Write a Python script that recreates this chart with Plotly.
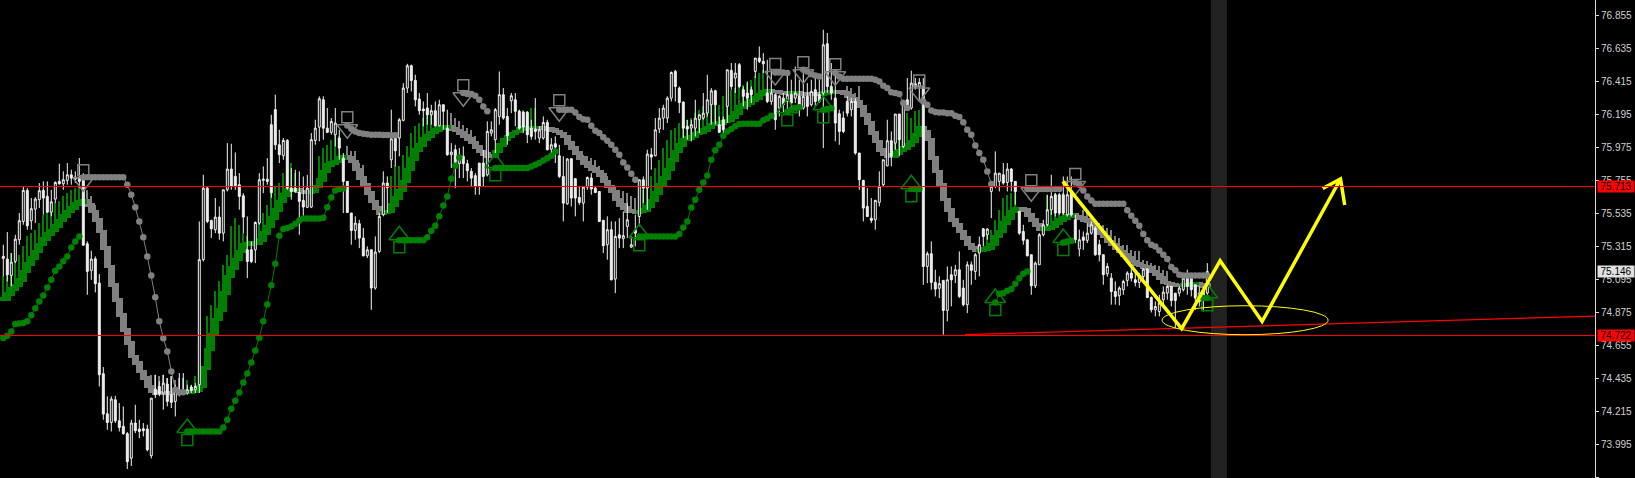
import plotly.graph_objects as go

high = [
75.325,75.409,75.269,75.391,75.536,75.714,75.702,75.636,75.642,75.736,
75.747,75.747,75.691,75.747,75.865,75.814,75.869,75.825,75.814,75.903,
75.802,75.347,75.285,75.247,75.129,74.509,74.314,74.314,74.318,74.269,
74.247,74.076,74.158,74.258,74.158,74.136,74.125,74.302,74.458,74.414,
74.458,74.436,74.447,74.391,74.469,74.469,74.391,74.391,74.402,75.480,
75.791,75.713,75.491,75.636,75.580,75.691,76.002,75.998,75.940,75.802,
75.669,75.513,75.347,75.480,75.802,75.847,75.902,76.191,76.325,76.091,
76.036,76.029,75.836,75.825,75.814,75.780,75.791,76.069,76.158,76.314,
76.314,76.236,76.169,76.236,76.091,75.936,75.747,75.536,75.514,75.491,
75.436,75.314,75.291,75.380,75.536,75.814,75.780,76.225,76.069,76.169,
76.402,76.531,76.525,76.458,76.336,76.280,76.336,76.258,76.280,76.291,
76.258,76.225,76.002,75.991,75.969,75.980,75.891,75.836,75.802,75.869,
75.958,76.147,76.147,76.236,76.480,76.369,76.236,76.336,76.336,76.225,
76.214,76.214,76.158,76.302,76.114,76.180,76.158,76.036,76.047,75.991,
75.914,75.902,75.902,75.769,75.714,75.714,75.780,75.802,75.714,75.680,
75.491,75.514,75.480,75.480,75.502,75.547,75.602,75.380,75.525,75.758,
75.780,75.958,75.969,76.169,76.236,76.258,76.314,76.480,76.491,76.380,
76.280,76.158,76.158,76.291,76.191,76.336,76.458,76.369,76.358,76.180,
76.180,76.491,76.536,76.536,76.536,76.380,76.414,76.380,76.569,76.647,
76.602,76.558,76.491,76.336,76.325,76.336,76.469,76.425,76.513,76.425,
76.469,76.402,76.425,76.469,76.425,76.758,76.736,76.536,76.491,76.225,
76.214,76.314,76.302,76.302,75.936,75.758,75.702,75.636,75.625,75.814,
75.891,76.158,76.080,76.196,76.196,76.291,76.436,76.485,76.436,76.436,
76.436,75.280,75.347,75.158,75.114,75.087,75.180,75.180,75.191,75.280,
75.091,75.213,75.213,75.269,75.380,75.436,75.436,75.747,75.947,75.802,
75.869,75.869,75.836,75.747,75.547,75.458,75.358,75.258,75.213,75.402,
75.491,75.658,75.791,75.669,75.669,75.780,75.780,75.780,75.524,75.425,
75.413,75.469,75.480,75.447,75.358,75.258,75.202,75.136,75.080,75.047,
75.091,75.147,75.169,75.136,75.136,75.169,75.169,74.980,74.947,74.991,
75.047,75.058,75.047,75.002,75.047,75.136,75.158,75.136,75.058,75.047,75.047,75.202]

body_top = [
75.247,75.229,75.209,75.362,75.485,75.687,75.687,75.565,75.629,75.685,
75.687,75.647,75.611,75.740,75.747,75.758,75.791,75.791,75.776,75.774,
75.754,75.331,75.229,75.231,75.069,74.465,74.198,74.296,74.291,74.151,
74.114,74.065,74.136,74.136,74.096,74.098,74.096,74.302,74.362,74.380,
74.402,74.396,74.325,74.358,74.358,74.353,74.358,74.376,74.380,75.225,
75.702,75.702,75.487,75.509,75.509,75.691,75.829,75.829,75.780,75.725,
75.651,75.291,75.291,75.473,75.758,75.762,75.762,76.125,76.225,75.991,
76.020,76.020,75.702,75.702,75.673,75.620,75.702,76.025,76.102,76.298,
76.291,76.102,76.147,76.136,76.036,75.902,75.747,75.536,75.469,75.465,
75.369,75.291,75.291,75.276,75.514,75.736,75.736,76.031,76.036,76.158,
76.369,76.518,76.518,76.420,76.296,76.229,76.236,76.218,76.218,76.258,
76.258,76.102,75.942,75.958,75.914,75.914,75.865,75.814,75.785,75.869,
75.869,76.080,76.091,76.225,76.325,76.325,76.180,76.318,76.291,76.214,
76.209,76.207,76.102,76.096,76.091,76.140,76.140,75.991,75.998,75.918,
75.780,75.896,75.898,75.765,75.640,75.709,75.773,75.769,75.702,75.680,
75.487,75.425,75.425,75.380,75.391,75.385,75.491,75.325,75.425,75.758,
75.758,75.929,75.925,76.091,76.169,76.236,76.302,76.473,76.480,76.369,
76.276,76.114,76.125,76.169,76.191,76.202,76.291,76.351,76.351,76.125,
76.158,76.491,76.487,76.469,76.525,76.358,76.336,76.358,76.569,76.569,
76.547,76.336,76.336,76.325,76.314,76.302,76.325,76.325,76.336,76.314,
76.314,76.314,76.347,76.358,76.325,76.658,76.665,76.380,76.302,76.198,
76.169,76.280,76.280,76.280,75.936,75.753,75.580,75.502,75.620,75.714,
75.891,76.018,76.018,76.196,76.196,76.280,76.291,76.402,76.398,76.407,
76.380,75.265,75.265,75.074,75.065,75.087,75.091,75.125,75.158,75.158,
75.036,75.191,75.191,75.258,75.325,75.431,75.429,75.713,75.802,75.802,
75.791,75.829,75.829,75.747,75.547,75.413,75.358,75.258,75.202,75.391,
75.458,75.558,75.647,75.658,75.658,75.658,75.658,75.669,75.491,75.358,
75.376,75.402,75.458,75.436,75.325,75.258,75.180,75.102,75.013,75.036,
75.080,75.136,75.136,75.091,75.113,75.162,75.162,74.973,74.913,74.936,
75.009,75.047,75.047,75.002,75.036,75.102,75.113,75.102,75.058,75.002,75.025,75.146]

body_bottom = [
75.234,75.125,75.120,75.214,75.358,75.480,75.451,75.485,75.562,75.625,
75.636,75.542,75.542,75.629,75.731,75.731,75.754,75.769,75.762,75.747,
75.322,75.147,75.154,75.065,74.458,74.196,74.140,74.140,74.151,74.107,
74.065,73.878,73.902,74.085,74.080,74.085,73.958,73.918,74.325,74.331,
74.336,74.280,74.274,74.280,74.325,74.331,74.336,74.353,74.358,74.391,
75.225,75.480,75.431,75.425,75.402,75.402,75.691,75.713,75.718,75.647,
75.509,75.213,75.213,75.291,75.469,75.754,75.747,75.671,75.991,75.925,
75.918,75.702,75.680,75.680,75.614,75.576,75.574,75.576,76.020,76.109,
76.102,76.074,76.074,76.058,75.969,75.747,75.540,75.420,75.420,75.369,
75.251,75.251,75.036,75.036,75.280,75.525,75.705,75.891,75.951,76.036,
76.154,76.369,76.420,76.291,76.218,76.218,76.191,76.191,76.118,76.118,
76.214,75.925,75.925,75.858,75.865,75.865,75.818,75.769,75.714,75.714,
75.780,75.791,76.069,76.025,76.180,76.169,76.051,76.285,76.214,76.102,
76.109,76.058,76.047,76.080,76.036,76.036,75.958,75.962,75.976,75.780,
75.602,75.598,75.636,75.636,75.607,75.602,75.709,75.696,75.673,75.480,
75.318,75.325,75.091,75.096,75.369,75.365,75.447,75.309,75.402,75.513,
75.702,75.702,75.909,75.918,76.096,76.169,76.169,76.302,76.380,76.273,
76.102,76.096,76.102,76.102,76.158,76.169,76.202,76.258,76.258,76.074,
76.091,76.247,76.380,76.436,76.380,76.314,76.302,76.325,76.480,76.547,
76.531,76.280,76.280,76.158,76.236,76.258,76.280,76.269,76.302,76.258,
76.236,76.247,76.258,76.280,76.280,76.336,76.380,76.336,76.136,76.080,
76.080,76.202,76.225,75.936,75.758,75.569,75.513,75.487,75.491,75.607,
75.725,75.851,75.914,76.002,76.025,75.980,76.225,76.236,76.376,76.376,
75.180,75.180,75.074,75.029,75.034,74.887,74.887,75.091,75.120,74.980,
74.925,74.925,75.154,75.147,75.269,75.380,75.391,75.680,75.713,75.747,
75.736,75.740,75.747,75.680,75.402,75.354,75.251,75.051,75.051,75.191,
75.391,75.458,75.558,75.536,75.536,75.536,75.524,75.524,75.358,75.296,
75.354,75.354,75.402,75.258,75.258,75.125,75.131,75.013,74.980,74.985,
75.025,75.087,75.102,75.073,75.073,75.113,74.973,74.891,74.891,74.880,
74.958,75.002,74.953,74.953,75.002,75.025,75.047,75.025,74.969,74.947,74.958,75.002]

low = [
75.114,75.080,75.047,75.202,75.325,75.458,75.425,75.425,75.469,75.569,
75.525,75.536,75.514,75.602,75.725,75.691,75.725,75.725,75.736,75.702,
75.318,74.991,75.091,75.007,74.380,74.158,74.091,74.080,74.136,74.080,
74.058,73.830,73.850,74.069,74.036,74.047,73.947,73.900,74.302,74.314,
74.225,74.247,74.236,74.180,74.314,74.325,74.325,74.336,74.336,74.336,
75.213,75.469,75.369,75.402,75.358,75.347,75.680,75.691,75.691,75.558,
75.402,75.102,75.202,75.202,75.458,75.669,75.725,75.638,75.958,75.869,
75.891,75.691,75.625,75.669,75.391,75.513,75.569,75.569,75.991,76.014,
76.025,76.069,76.058,75.980,75.891,75.536,75.536,75.325,75.358,75.302,
75.247,75.236,74.891,75.025,75.269,75.514,75.536,75.836,75.847,75.914,
76.147,76.336,76.347,76.247,76.191,76.114,76.125,76.125,76.114,76.114,
76.091,75.918,75.836,75.702,75.769,75.769,75.747,75.714,75.658,75.658,
75.714,75.780,76.047,75.936,76.125,76.158,75.991,76.202,76.114,76.091,
76.069,76.002,76.025,76.025,76.002,76.025,75.954,75.925,75.869,75.769,
75.480,75.591,75.580,75.514,75.591,75.480,75.691,75.658,75.669,75.476,
75.269,75.225,75.087,75.002,75.302,75.302,75.369,75.302,75.314,75.447,
75.602,75.558,75.825,75.914,76.069,76.091,76.136,76.280,76.280,76.202,
76.036,76.025,76.014,76.047,76.069,76.158,76.180,76.125,76.125,76.069,
76.047,76.136,76.358,76.336,76.369,76.247,76.225,76.269,76.436,76.536,
76.469,76.269,76.258,76.091,76.180,76.202,76.225,76.225,76.269,76.180,
76.225,76.180,76.247,76.247,76.269,75.969,76.336,76.291,76.014,75.991,
76.069,76.180,76.180,75.925,75.691,75.480,75.509,75.469,75.425,75.580,
75.714,75.847,75.847,75.958,75.914,75.969,76.225,76.225,76.358,76.291,
75.058,75.069,75.025,74.980,74.969,74.725,74.814,74.914,75.069,74.969,
74.914,74.869,75.058,75.091,75.114,75.313,75.358,75.502,75.702,75.680,
75.725,75.680,75.680,75.591,75.391,75.325,75.247,74.991,75.036,75.191,
75.380,75.447,75.524,75.513,75.524,75.524,75.513,75.513,75.336,75.247,
75.291,75.336,75.391,75.251,75.213,75.058,75.113,74.925,74.925,74.920,
74.991,75.047,75.080,75.047,75.036,75.091,74.969,74.873,74.847,74.847,
74.902,74.958,74.913,74.769,74.980,75.013,74.991,74.980,74.891,74.913,74.880,74.980]

hollow = [
0,0,1,1,1,1,0,1,1,1, 0,0,1,1,0,1,1,0,0,0, 0,0,1,0,0,0,0,1,0,0, 0,0,1,0,0,0,0,1,0,0,
1,0,0,1,0,0,1,0,1,1, 1,0,0,1,0,1,1,0,0,0, 0,0,0,1,1,1,0,0,0,0, 1,0,0,0,0,0,1,1,1,1,
0,0,1,1,0,0,0,0,1,0, 0,1,0,1,1,1,0,1,0,1, 1,1,0,0,0,0,0,1,0,1, 0,0,1,0,1,0,0,0,0,0,
0,1,1,1,1,0,0,1,0,0, 0,0,0,0,1,1,0,1,0,0, 0,1,0,0,0,1,1,0,0,0, 0,1,0,1,0,1,1,1,0,1,
0,1,0,1,1,1,1,1,0,0, 0,0,1,1,1,1,1,1,0,0, 0,1,0,1,0,0,0,0,1,0, 0,0,1,0,1,0,1,0,1,0,
1,0,1,0,0,1,0,0,0,0, 0,0,1,0,0,0,0,0,1,1, 1,1,0,1,0,1,0,1,0,1, 0,1,0,0,1,0,1,0,1,0,
0,1,0,1,1,0,1,1,1,1, 0,1,0,0,0,0,0,0,1,1, 1,1,1,0,0,0,1,0,0,1, 0,1,1,0,0,0,1,0,0,1,
1,1,0,0,1,1,0,0,1,1, 1,1,0,0,1,1,0,0,0,0,0,1]

band = [
74.962,74.998,75.029,75.054,75.091,75.147,75.198,75.236,75.280,75.325,
75.362,75.396,75.420,75.451,75.485,75.518,75.547,75.569,75.596,75.609,
75.618,75.591,75.547,75.491,75.414,75.302,75.180,75.058,74.958,74.858,
74.758,74.669,74.580,74.536,74.480,74.436,74.380,74.347,74.336,74.336,
74.336,74.336,74.336,74.340,74.340,74.340,74.340,74.347,74.353,74.380,
74.502,74.625,74.725,74.825,74.891,75.002,75.114,75.169,75.225,75.280,
75.325,75.331,75.336,75.336,75.358,75.402,75.447,75.502,75.558,75.613,
75.658,75.691,75.691,75.689,75.680,75.678,75.673,75.680,75.713,75.758,
75.813,75.858,75.869,75.880,75.902,75.913,75.902,75.880,75.825,75.769,
75.725,75.669,75.614,75.569,75.536,75.540,75.547,75.591,75.636,75.687,
75.747,75.825,75.896,75.958,75.991,76.029,76.051,76.074,76.091,76.102,
76.111,76.113,76.096,76.085,76.069,76.051,76.029,76.007,75.976,75.947,
75.931,75.918,75.918,75.947,75.991,76.025,76.047,76.065,76.080,76.096,
76.102,76.105,76.107,76.105,76.102,76.100,76.098,76.091,76.080,76.065,
76.047,76.002,75.969,75.936,75.902,75.869,75.847,75.829,75.813,75.791,
75.747,75.713,75.680,75.625,75.591,75.569,75.551,75.545,75.540,75.547,
75.558,75.580,75.620,75.669,75.725,75.769,75.825,75.891,75.947,75.991,
76.025,76.036,76.047,76.065,76.074,76.091,76.107,76.125,76.131,76.136,
76.147,76.154,76.176,76.202,76.242,76.258,76.269,76.287,76.302,76.325,
76.347,76.351,76.347,76.345,76.340,76.336,76.336,76.340,76.340,76.331,
76.331,76.331,76.329,76.325,76.331,76.336,76.342,76.347,76.347,76.342,
76.336,76.318,76.296,76.280,76.247,76.191,76.136,76.069,76.014,75.958,
75.925,75.918,75.918,75.936,75.954,75.969,75.991,76.014,76.058,76.102,
76.080,76.025,75.902,75.813,75.725,75.625,75.558,75.491,75.458,75.413,
75.369,75.325,75.302,75.287,75.287,75.296,75.302,75.325,75.380,75.413,
75.469,75.502,75.547,75.562,75.562,75.558,75.524,75.491,75.458,75.429,
75.429,75.436,75.447,75.469,75.491,75.502,75.518,75.524,75.513,75.502,
75.491,75.480,75.458,75.436,75.402,75.380,75.347,75.325,75.302,75.280,
75.258,75.236,75.213,75.198,75.185,75.176,75.169,75.147,75.125,75.102,
75.073,75.065,75.058,75.054,75.054,75.056,75.058,75.065,75.065,75.056,75.051,75.058]

band_green_runs = [(0,20),(46,73),(77,85),(95,111),(123,133),(159,191),(197,198),(205,207),
                   (223,229),(244,253),(260,267),(295,298)]

spike_runs = [
(0,[75.114,75.158,75.269,75.258,75.258,75.314,75.380,75.402,75.425,75.469,75.525,75.547,75.580,75.602,75.614,75.647,75.669,75.691,75.702,75.713]),
(21,[75.691,75.647,75.591]),
(37,[74.458,74.458,74.447,74.458,74.436,74.447,74.425,74.436,74.436]),
(46,[74.425,74.391,74.447,74.569]),
(51,[74.851,74.925,75.013,75.080,75.191,75.258,75.447,75.502,75.458,75.402,75.380]),
(64,[75.513,75.536,75.591,75.669,75.713,75.736,75.802,75.836,75.869,75.802]),
(79,[75.918,75.969,75.991,76.025,76.069,76.047]),
(86,[75.980,75.947,75.947,75.869,75.858]),
(97,[75.780,75.858,75.847,75.925,75.980,76.069,76.118,76.136,76.169,76.191,76.214,76.202]),
(112,[76.202,76.169,76.147,76.125,76.102,76.091,76.047]),
(129,[76.225,76.225,76.214,76.236,76.236]),
(141,[76.025,75.990,75.960,75.936,75.925,75.914,75.900,75.891,75.847,75.825,75.780,75.725,75.710,75.691,75.680,75.669,75.647,75.636]),
(159,[75.713,75.691,75.747,75.780,75.836,75.891,75.969,76.025,76.091,76.102,76.136,76.158,76.158,76.169,76.202,76.225,76.247,76.269,76.302,76.314,76.258,76.314,76.325,76.358,76.369,76.380,76.391,76.402,76.425,76.447,76.469,76.491]),
(211,[76.380,76.369,76.336,76.380,76.225]),
(223,[76.114,76.114,76.102,76.202,76.169,76.214,76.225]),
(246,[75.413,75.425,75.491,75.558,75.636,75.658,75.669,75.713]),
(261,[75.658,75.647,75.669,75.658,75.669,75.647,75.669]),
(270,[75.558,75.536,75.525,75.490,75.469,75.458,75.436,75.425,75.380,75.369,75.325,75.325,75.291,75.280,75.280,75.225,75.213,75.202,75.191,75.180,75.158,75.147]),
(295,[75.102,75.102,75.102]),
]

green_dot_runs = [
(0,[74.703,74.718,74.747,74.796,74.800,74.803,74.814,74.854,74.902,74.947,74.987,75.040,75.091,75.151,75.180,75.214,75.247,75.307,75.347,75.380]),
(46,[74.080]*9+[74.107,74.158,74.231,74.285,74.340,74.407,74.467,74.540,74.620,74.705,74.814,74.927,75.054,75.198,75.385,75.429,75.436,75.447,75.465,75.487,75.500,75.500,75.500,75.500,75.500,75.505,75.574,75.640,75.687,75.696,75.700]),
(99,[75.354]*7+[75.374,75.418,75.451,75.514,75.587,75.647,75.765,75.851,75.907]),
(123,[75.836]*9+[75.847,75.858,75.869,75.887,75.902,75.918,75.947]),
(159,[75.380]*10+[75.396,75.440,75.480,75.573,75.625,75.691,75.740,75.787,75.891,75.954,75.991,76.051,76.080,76.096,76.114,76.129,76.131,76.131,76.131,76.131,76.131,76.154,76.167,76.185]),
(196,[76.211,76.225,76.236,76.242]),
(205,[76.225,76.229,76.234]),
(227,[75.696,75.696,75.696]),
(248,[74.940,74.998,75.002,75.018,75.029,75.065,75.102,75.131,75.147]),
(265,[75.340,75.347,75.351]),
(300,[74.969,74.969]),
]

gray_dot_runs = [
(20,[75.774]*11+[75.725,75.658,75.574,75.480,75.374,75.247,75.120,74.974,74.814,74.702,74.613,74.480,74.358,74.342,74.342]),
(86,[76.120,76.098,76.080,76.069,76.065,76.062,76.058,76.058,76.058,76.056,76.056,76.054,76.054]),
(115,[76.336,76.329,76.329,76.318,76.291,76.247,76.214]),
(139,[76.225]*4+[76.207,76.176,76.162,76.158,76.118,76.085,76.069,76.042,76.018,75.991,75.958,75.925,75.873,75.840,75.798,75.758]),
(193,[76.473,76.473,76.473,76.469]),
(200,[76.491,76.480,76.462,76.453,76.447]),
(208,[76.469,76.447]+[76.431]*8+[76.425,76.413,76.385,76.369,76.342,76.336,76.329,76.269,76.236]),
(230,[76.280,76.258,76.220,76.209,76.207,76.207,76.202,76.202,76.185,76.176,76.142,76.091,76.058,75.987,75.936,75.891,75.813,75.729]),
(256,[75.696]*9),
(268,[75.740,75.725,75.687,75.647,75.620]+[75.598]*8+[75.554,75.518,75.485,75.451,75.396,75.354,75.325,75.313,75.287,75.258,75.229,75.176,75.154,75.125]+[75.120]*7),
]

up_arrow_x = [46,99,123,159,196,205,227,248,265,301]
up_arrow_y = [74.073,75.358,75.838,75.371,76.205,76.225,75.698,74.940,75.340,74.971]
down_arrow_x = [20,86,115,139,193,200,208,229,257,268]
down_arrow_y = [75.771,76.125,76.338,76.238,76.480,76.491,76.478,76.370,75.705,75.747]

zigzag_x = [264.9,294.6,304.2,314.7,334.3,329.85,334.3,335.35]
zigzag_y = [75.747,74.765,75.218,74.813,75.763,75.700,75.763,75.589]
trend_x = [240.4,397.9]
trend_y = [74.725,74.849]
ellipse_x = [289.7,331.2]
ellipse_y = [74.725,74.918]
session_band_x = [301.9,305.9]

tick_values = [76.855,76.635,76.415,76.195,75.975,75.755,75.535,75.315,75.095,74.875,74.655,74.435,74.215,73.995,73.775]
level_upper = 75.713
level_lower = 74.722
price_now = 75.146

GREEN = "#008000"
GRAY = "#808080"
n = len(high)
assert all(len(a) == n for a in (low, body_top, body_bottom, hollow, band))
xs = list(range(n))
opens = [b if h else t for t, b, h in zip(body_top, body_bottom, hollow)]
closes = [t if h else b for t, b, h in zip(body_top, body_bottom, hollow)]
is_green = [any(a <= i <= b for a, b in band_green_runs) for i in xs]

fig = go.Figure()

def add_spikes(green):
    x, base, h = [], [], []
    for start, vals in spike_runs:
        for k, top in enumerate(vals):
            i = start + k
            if is_green[i] == green:
                x.append(i); base.append(band[i]); h.append(top - band[i])
    fig.add_trace(go.Bar(x=x, y=h, base=base, width=0.25, marker=dict(color=GREEN if green else GRAY, line_width=0), showlegend=False))

add_spikes(True)
add_spikes(False)
fig.add_trace(go.Candlestick(x=xs, open=opens, high=high, low=low, close=closes, whiskerwidth=0,
    increasing=dict(line=dict(color="#f4f4f4", width=1), fillcolor="#000000"),
    decreasing=dict(line=dict(color="#f4f4f4", width=1), fillcolor="#e8e8e8"), showlegend=False))

def add_band(green):
    x, base, h = [], [], []
    for i in xs:
        if is_green[i] == green:
            prev = band[i - 1] if i else band[i]
            lo = min(prev, band[i]) - 0.012
            hi = max(prev, band[i]) + 0.012
            x.append(i); base.append(lo); h.append(hi - lo)
    fig.add_trace(go.Bar(x=x, y=h, base=base, width=1.9, marker=dict(color=GREEN if green else GRAY, line_width=0), showlegend=False))
add_band(False)
add_band(True)

def add_dots(runs, color):
    x, y = [], []
    for start, vals in runs:
        x += [start + k for k in range(len(vals))] + [None]
        y += list(vals) + [None]
    fig.add_trace(go.Scatter(x=x, y=y, mode="lines+markers", connectgaps=False, line=dict(color=color, width=1),
                             marker=dict(color=color, size=6.5), showlegend=False))
add_dots(gray_dot_runs, GRAY)
add_dots(green_dot_runs, GREEN)

def add_arrows(xv, yv, color, head_symbol, head_shift, stem_shift):
    fig.add_trace(go.Scatter(x=xv, y=[v + head_shift for v in yv], mode="markers", showlegend=False,
                             marker=dict(symbol=head_symbol, size=18, color=color, line=dict(color=color, width=1.5))))
    fig.add_trace(go.Scatter(x=xv, y=[v + stem_shift for v in yv], mode="markers", showlegend=False,
                             marker=dict(symbol="square-open", size=11, color=color, line=dict(color=color, width=1.5))))
add_arrows(up_arrow_x, up_arrow_y, GREEN, "triangle-up-open", 0.030, -0.050)
add_arrows(down_arrow_x, down_arrow_y, GRAY, "triangle-down-open", -0.030, 0.050)

fig.add_trace(go.Scatter(x=trend_x, y=trend_y, mode="lines", line=dict(color="#ff0000", width=1.3), showlegend=False))
fig.add_trace(go.Scatter(x=zigzag_x, y=zigzag_y, mode="lines", line=dict(color="#ffff00", width=3.5), showlegend=False))

fig.add_shape(type="rect", xref="x", yref="paper", x0=session_band_x[0], x1=session_band_x[1], y0=0, y1=1,
              fillcolor="#222222", line_width=0, layer="below")
fig.add_shape(type="line", xref="paper", x0=0, x1=1, yref="y", y0=level_upper, y1=level_upper, line=dict(color="#ff0000", width=1))
fig.add_shape(type="line", xref="paper", x0=0, x1=1, yref="y", y0=level_lower-0.0023, y1=level_lower-0.0023, line=dict(color="#ff0000", width=1))
fig.add_shape(type="circle", xref="x", yref="y", x0=ellipse_x[0], x1=ellipse_x[1], y0=ellipse_y[0], y1=ellipse_y[1],
              line=dict(color="#ffff00", width=1))

for value, bg in ((level_upper, "#ff0000"), (price_now, "#e0e0e0"), (level_lower, "#ff0000")):
    fig.add_annotation(xref="paper", x=1, xanchor="left", xshift=2, yref="y", y=value, text=f"{value:.3f}", showarrow=False,
                       bgcolor=bg, width=36, height=11, borderpad=0, align="center",
                       font=dict(family="Liberation Sans", size=10, color="#000000"))

fig.update_layout(width=1635, height=478, margin=dict(l=0, r=40, t=0, b=0), paper_bgcolor="#000000", plot_bgcolor="#000000",
                  barmode="overlay", bargap=0, boxgap=0.3, showlegend=False, dragmode=False,
                  xaxis=dict(type="linear", range=[-0.825, 397.925], visible=False, rangeslider=dict(visible=False), showgrid=False, zeroline=False),
                  yaxis=dict(range=[73.7696, 76.9563], side="right", showgrid=False, zeroline=False, tickmode="array", tickvals=tick_values,
                             ticktext=[f"{v:.3f}" for v in tick_values], ticks="outside", ticklen=3, tickwidth=1, tickcolor="#d8d8d8",
                             showline=True, linecolor="#d8d8d8", linewidth=1, tickfont=dict(family="Liberation Sans", size=10, color="#d0d0d0"),
                             automargin=False))
fig.write_html("out.html", config=dict(displayModeBar=False), post_script="document.body.style.margin='0';")
